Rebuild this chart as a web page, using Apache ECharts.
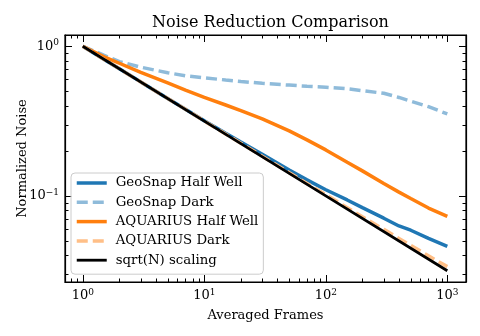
<!DOCTYPE html>
<html>
<head>
<meta charset="utf-8">
<script src="https://cdn.jsdelivr.net/npm/echarts@6/dist/echarts.min.js"></script>
<style>
  html, body { margin: 0; padding: 0; background: #fff; }
  #chart { width: 480px; height: 336px; }
</style>
</head>
<body>
<div id="chart"></div>
<script>
// averaged frame counts (x)
var frames = [1, 1.5, 2, 3, 5, 7, 10, 15, 20, 30, 50, 70, 100, 150, 200, 300, 400, 500, 700, 1000];
// normalized noise
var geosnapHalfWell = [1, 0.817, 0.708, 0.578, 0.448, 0.38, 0.318, 0.262, 0.229, 0.19, 0.149, 0.128, 0.11, 0.094, 0.0835, 0.071, 0.063, 0.059, 0.052, 0.046];
var geosnapDark = [1, 0.87, 0.79, 0.725, 0.665, 0.635, 0.615, 0.595, 0.582, 0.565, 0.55, 0.54, 0.532, 0.52, 0.505, 0.485, 0.455, 0.43, 0.395, 0.353];
var aquariusHalfWell = [1, 0.85, 0.77, 0.67, 0.57, 0.51, 0.455, 0.405, 0.372, 0.327, 0.272, 0.237, 0.203, 0.168, 0.147, 0.121, 0.106, 0.096, 0.083, 0.073];
var aquariusDark = [1, 0.816, 0.707, 0.578, 0.448, 0.379, 0.317, 0.259, 0.225, 0.184, 0.143, 0.121, 0.102, 0.0835, 0.0725, 0.0598, 0.052, 0.0467, 0.0398, 0.0337];
var sqrtFrames = [1, 10, 100, 1000];
var sqrtScaling = [1, 0.316, 0.1, 0.0316];

var seriesNames = ['GeoSnap Half Well', 'GeoSnap Dark', 'AQUARIUS Half Well', 'AQUARIUS Dark', 'sqrt(N) scaling'];
var lineWidths = [3.5, 3.5, 3.5, 3.5, 2.8];

// minor tick positions (log axes)
var xMinorTicks = [0.8, 0.9, 2, 3, 4, 5, 6, 7, 8, 9, 20, 30, 40, 50, 60, 70, 80, 90, 200, 300, 400, 500, 600, 700, 800, 900];
var yMinorTicks = [0.03, 0.04, 0.05, 0.06, 0.07, 0.08, 0.09, 0.2, 0.3, 0.4, 0.5, 0.6, 0.7, 0.8, 0.9];

var FONT = 'DejaVu Serif';

function pairs(xs, ys) {
    return xs.map(function (x, i) { return [x, ys[i]]; });
}

// 10^n label with superscript
function powLabel(v) {
    var e = Math.round(Math.log10(v));
    return '{b|10}{s|' + String(e).replace('-', '\u2212') + '}';
}

var labelRich = {
    b: { fontSize: 13, fontFamily: FONT, color: '#000' },
    s: { fontSize: 9, fontFamily: FONT, color: '#000', padding: [0, 0, 7, 0] }
};

function logAxis(opts) {
    var base = {
        type: 'log',
        logBase: 10,
        axisLine: { show: true, lineStyle: { color: '#000', width: 1.2 } },
        axisTick: { show: true, inside: true, length: 7, lineStyle: { color: '#000', width: 1 } },
        splitLine: { show: false },
        minorTick: { show: false },
        axisLabel: {
            show: true,
            margin: 6,
            showMinLabel: false,
            showMaxLabel: false,
            formatter: powLabel,
            rich: labelRich
        },
        nameTextStyle: { fontFamily: FONT, fontSize: 13, color: '#000' }
    };
    return Object.assign(base, opts);
}

var xMin = 0.714, xMax = 1425;
var yMin = 0.0266, yMax = 1.189;

function minorTickRenderer(dir) {
    return function (params, api) {
        var cs = params.coordSys;
        var p = api.coord([api.value(0), api.value(1)]);
        var st = { stroke: '#000', lineWidth: 1 };
        if (dir === 'x') {
            var x = Math.round(p[0]) + 0.5;
            return {
                type: 'group',
                children: [
                    { type: 'line', shape: { x1: x, y1: cs.y + cs.height, x2: x, y2: cs.y + cs.height - 3.5 }, style: st },
                    { type: 'line', shape: { x1: x, y1: cs.y, x2: x, y2: cs.y + 3.5 }, style: st }
                ]
            };
        }
        var y = Math.round(p[1]) + 0.5;
        return {
            type: 'group',
            children: [
                { type: 'line', shape: { x1: cs.x, y1: y, x2: cs.x + 3.5, y2: y }, style: st },
                { type: 'line', shape: { x1: cs.x + cs.width, y1: y, x2: cs.x + cs.width - 3.5, y2: y }, style: st }
            ]
        };
    };
}

var chart = echarts.init(document.getElementById('chart'), null, { renderer: 'canvas' });

var option = {
    animation: false,
    backgroundColor: '#fff',
    title: {
        text: 'Noise Reduction Comparison',
        left: 265.5,
        top: 10,
        textAlign: 'center',
        textStyle: { fontFamily: FONT, fontSize: 16, fontWeight: 'normal', color: '#000' }
    },
    grid: {
        left: 65, right: 14, top: 35, bottom: 54,
        show: true, borderColor: '#000', borderWidth: 1.2, backgroundColor: 'transparent'
    },
    legend: {
        data: seriesNames.map(function (n, i) {
            return { name: n, lineStyle: { width: lineWidths[i] } };
        }),
        orient: 'vertical',
        left: 71,
        top: 173,
        itemWidth: 30,
        itemHeight: 12,
        itemGap: 5.3,
        padding: [3, 5, 7, 4],
        backgroundColor: 'rgba(255,255,255,0.8)',
        borderColor: '#cccccc',
        borderWidth: 1,
        borderRadius: 4,
        itemStyle: { opacity: 0 },
        textStyle: { fontFamily: FONT, fontSize: 13.3, color: '#000', lineHeight: 14, padding: [0, 0, 0, 4] }
    },
    xAxis: [
        logAxis({
            min: xMin, max: xMax, position: 'bottom',
            name: 'Averaged Frames', nameLocation: 'middle', nameGap: 27
        }),
        logAxis({
            min: xMin, max: xMax, position: 'top',
            axisLabel: { show: false }
        })
    ],
    yAxis: [
        logAxis({
            min: yMin, max: yMax, position: 'left',
            name: 'Normalized Noise', nameLocation: 'middle', nameGap: 36, nameMoveOverlap: false
        }),
        logAxis({
            min: yMin, max: yMax, position: 'right',
            axisLabel: { show: false }
        })
    ],
    series: [
        {
            name: seriesNames[0], type: 'line', data: pairs(frames, geosnapHalfWell),
            showSymbol: false, symbol: 'none',
            lineStyle: { color: '#1f77b4', width: lineWidths[0] }, itemStyle: { color: '#1f77b4' }
        },
        {
            name: seriesNames[1], type: 'line', data: pairs(frames, geosnapDark),
            showSymbol: false, symbol: 'none',
            lineStyle: { color: '#8fbbda', width: lineWidths[1], type: [11, 5] }, itemStyle: { color: '#8fbbda' }
        },
        {
            name: seriesNames[2], type: 'line', data: pairs(frames, aquariusHalfWell),
            showSymbol: false, symbol: 'none',
            lineStyle: { color: '#ff7f0e', width: lineWidths[2] }, itemStyle: { color: '#ff7f0e' }
        },
        {
            name: seriesNames[3], type: 'line', data: pairs(frames, aquariusDark),
            showSymbol: false, symbol: 'none',
            lineStyle: { color: '#ffbf87', width: lineWidths[3], type: [11, 5] }, itemStyle: { color: '#ffbf87' }
        },
        {
            name: seriesNames[4], type: 'line', data: pairs(sqrtFrames, sqrtScaling),
            showSymbol: false, symbol: 'none',
            lineStyle: { color: '#000', width: lineWidths[4] }, itemStyle: { color: '#000' }
        },
        {
            type: 'custom', silent: true, clip: false, z: 5,
            renderItem: minorTickRenderer('x'),
            data: xMinorTicks.map(function (v) { return [v, 1]; })
        },
        {
            type: 'custom', silent: true, clip: false, z: 5,
            renderItem: minorTickRenderer('y'),
            data: yMinorTicks.map(function (v) { return [1, v]; })
        }
    ]
};

chart.setOption(option);
</script>
</body>
</html>
